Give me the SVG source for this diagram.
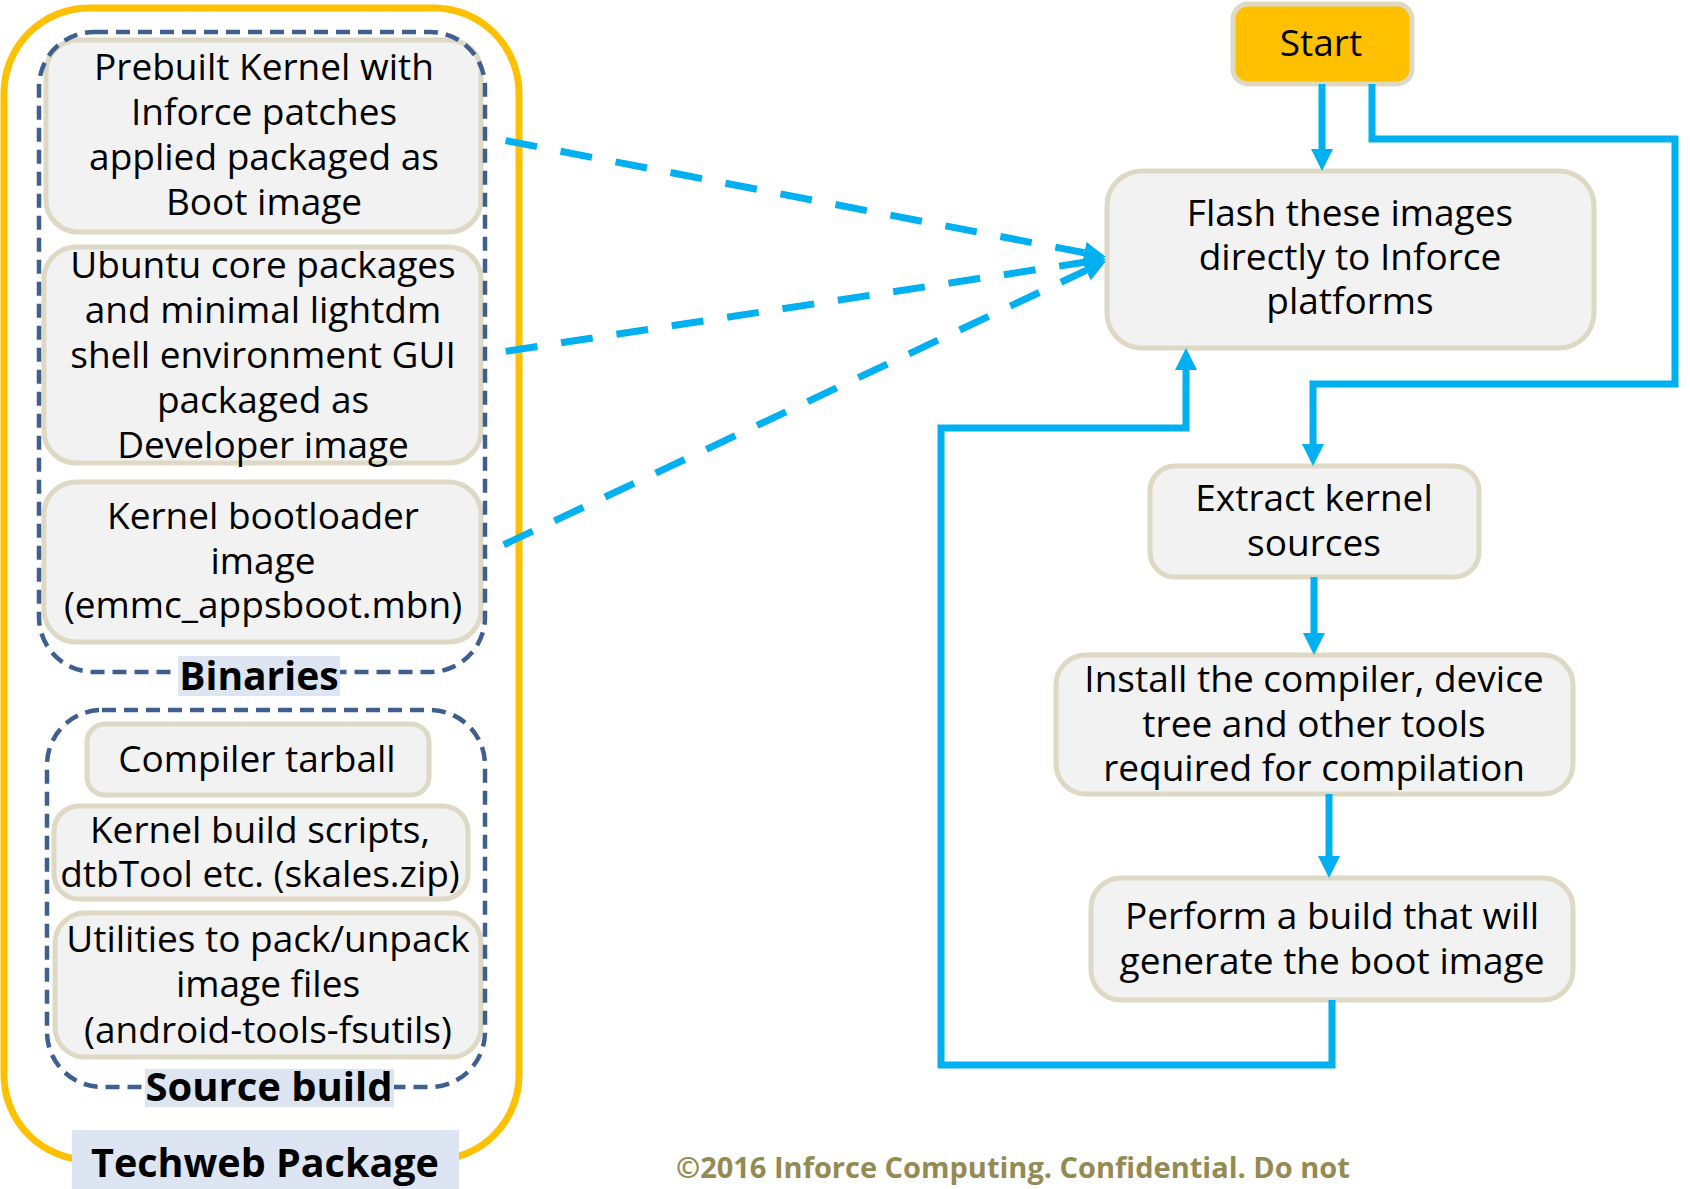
<svg xmlns="http://www.w3.org/2000/svg" width="1690" height="1189" viewBox="0 0 1690 1189">
<style>
.box{fill:#F2F2F2;stroke:#DDD9C4;stroke-width:5}
.start{fill:#FFC000;stroke:#DDD9C4;stroke-width:5}
.t{font-family:"Open Sans","Noto Sans",sans-serif;font-size:37px;fill:#000;text-anchor:middle}
.lbl{font-family:"Open Sans","Noto Sans",sans-serif;font-weight:bold;fill:#000;text-anchor:middle}
.lblbg{fill:#DCE5F1}
.grp{fill:none;stroke:#3F5F8F;stroke-width:4.5;stroke-dasharray:14 8}
.solid{fill:none;stroke:#00B0F0;stroke-width:7;marker-end:url(#arr)}
.dash{fill:none;stroke:#00B0F0;stroke-width:7;stroke-dasharray:32 24;stroke-dashoffset:32;marker-end:url(#arr)}
.foot{font-family:"Open Sans","Noto Sans",sans-serif;font-weight:bold;font-size:29px;fill:#948A54}
</style>
<defs>
<marker id="arr" markerUnits="userSpaceOnUse" markerWidth="22" markerHeight="22" viewBox="0 0 22 22" refX="0" refY="11" orient="auto">
<path d="M0,0 L22,11 L0,22 z" fill="#00B0F0"/>
</marker>
</defs>
<rect width="1690" height="1189" fill="#fff"/>

<g id="techweb-package">
<rect x="4" y="8" width="515" height="1152" rx="85" fill="none" stroke="#FFC000" stroke-width="7"/>
<rect class="lblbg" x="72" y="1130" width="387" height="59"/>
<text class="lbl" x="265" y="1177" font-size="39.5">Techweb Package</text>
</g>

<g id="node-boot-image">
<rect class="box" x="46" y="40" width="435" height="192" rx="32"/>
<text class="t" y="80"><tspan x="264">Prebuilt Kernel with</tspan><tspan x="264" dy="45">Inforce patches</tspan><tspan x="264" dy="45">applied packaged as</tspan><tspan x="264" dy="45">Boot image</tspan></text>
</g>
<g id="node-developer-image">
<rect class="box" x="44" y="247" width="437" height="216" rx="32"/>
<text class="t" y="278"><tspan x="263">Ubuntu core packages</tspan><tspan x="263" dy="45">and minimal lightdm</tspan><tspan x="263" dy="45">shell environment GUI</tspan><tspan x="263" dy="45">packaged as</tspan><tspan x="263" dy="45">Developer image</tspan></text>
</g>
<g id="node-bootloader">
<rect class="box" x="44" y="482" width="437" height="160" rx="32"/>
<text class="t" y="529"><tspan x="263">Kernel bootloader</tspan><tspan x="263" dy="45">image</tspan><tspan x="263" dy="44">(emmc_appsboot.mbn)</tspan></text>
</g>
<g id="group-binaries">
<rect class="grp" x="39" y="32" width="446" height="640" rx="55"/>
<rect class="lblbg" x="178" y="656" width="162" height="40"/>
<text class="lbl" x="259" y="690" font-size="39">Binaries</text>
</g>

<g id="node-compiler">
<rect class="box" x="87" y="724" width="342" height="71" rx="18"/>
<text class="t" x="257" y="772">Compiler tarball</text>
</g>
<g id="node-build-scripts">
<rect class="box" x="54" y="806" width="414" height="93" rx="25"/>
<text class="t" y="843"><tspan x="260">Kernel build scripts,</tspan><tspan x="260" dy="44">dtbTool etc. (skales.zip)</tspan></text>
</g>
<g id="node-utilities">
<rect class="box" x="55" y="913" width="426" height="144" rx="30"/>
<text class="t" y="952"><tspan x="268">Utilities to pack/unpack</tspan><tspan x="268" dy="45">image files</tspan><tspan x="268" dy="46">(android-tools-fsutils)</tspan></text>
</g>
<g id="group-source-build">
<rect class="grp" x="47" y="710" width="438" height="377" rx="55"/>
<rect class="lblbg" x="145" y="1069" width="249" height="38"/>
<text class="lbl" x="269" y="1101" font-size="40">Source build</text>
</g>

<g id="node-start">
<rect class="start" x="1233" y="4" width="179" height="80" rx="15"/>
<text class="t" x="1321" y="56">Start</text>
</g>
<g id="node-flash">
<rect class="box" x="1107" y="171" width="487" height="177" rx="35"/>
<text class="t" y="226"><tspan x="1350">Flash these images</tspan><tspan x="1350" dy="44">directly to Inforce</tspan><tspan x="1350" dy="44">platforms</tspan></text>
</g>
<g id="node-extract">
<rect class="box" x="1150" y="466" width="329" height="111" rx="25"/>
<text class="t" y="511"><tspan x="1314">Extract kernel</tspan><tspan x="1314" dy="45">sources</tspan></text>
</g>
<g id="node-install">
<rect class="box" x="1056" y="655" width="517" height="139" rx="30"/>
<text class="t" y="692"><tspan x="1314">Install the compiler, device</tspan><tspan x="1314" dy="45">tree and other tools</tspan><tspan x="1314" dy="44">required for compilation</tspan></text>
</g>
<g id="node-perform">
<rect class="box" x="1091" y="878" width="482" height="122" rx="30"/>
<text class="t" y="929"><tspan x="1332">Perform a build that will</tspan><tspan x="1332" dy="45">generate the boot image</tspan></text>
</g>

<g id="connectors">
<path class="dash" d="M482,136 L1084.4,252.8"/>
<path class="dash" d="M482,355 L1084.3,262.3"/>
<path class="dash" d="M482,555 L1086.1,270.4"/>
<path class="solid" d="M1322,84 V149"/>
<path class="solid" d="M1372,84 V139 H1675 V384 H1313 V444"/>
<path class="solid" d="M1314,577 V633"/>
<path class="solid" d="M1329,794 V856"/>
<path class="solid" d="M1332,1000 V1065 H941 V428 H1186 V370"/>
</g>

<text class="foot" x="676" y="1178">©2016 Inforce Computing. Confidential. Do not</text>
</svg>
